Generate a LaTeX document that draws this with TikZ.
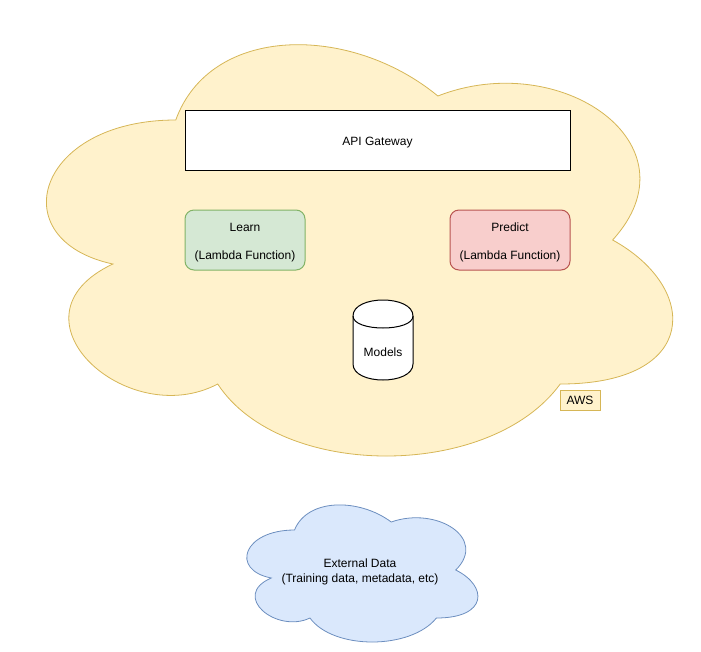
\documentclass[tikz,border=0pt]{standalone}
\usepackage{fontspec}
\setmainfont{Liberation Sans}
\usetikzlibrary{positioning}

\definecolor{awsfill}{HTML}{FFF2CC}
\definecolor{awsline}{HTML}{D6B656}
\definecolor{learnfill}{HTML}{D5E8D4}
\definecolor{learnline}{HTML}{82B366}
\definecolor{predictfill}{HTML}{F8CECC}
\definecolor{predictline}{HTML}{B85450}
\definecolor{datafill}{HTML}{DAE8FC}
\definecolor{dataline}{HTML}{6C8EBF}

\tikzset{
  pics/cloudshape/.style={code={
    \path[pic actions] (0.25,0.25)
      .. controls (0.05,0.25) and (0,0.5) .. (0.16,0.55)
      .. controls (0,0.66) and (0.18,0.9) .. (0.31,0.8)
      .. controls (0.4,1) and (0.7,1) .. (0.8,0.8)
      .. controls (1,0.8) and (1,0.6) .. (0.875,0.5)
      .. controls (1,0.3) and (0.8,0.1) .. (0.625,0.2)
      .. controls (0.5,0.05) and (0.3,0.05) .. (0.25,0.25) -- cycle;
  }},
  awscloud/.style={fill=awsfill, draw=awsline, line width=0.8pt},
  datacloud/.style={fill=datafill, draw=dataline, line width=0.8pt},
  box/.style={rectangle, draw, line width=1pt, inner sep=0pt, align=center},
  lambda/.style={box, rounded corners=9pt, minimum width=120, minimum height=60},
}
\newcommand{\topstrut}{\rule{0pt}{14pt}}

\begin{document}
\begin{tikzpicture}[x=1pt, y=-1pt, font=\fontsize{12}{14}\selectfont]
    \useasboundingbox (0,0) rectangle (701,651);

    % clouds
    \pic[awscloud, shift={(1,0)}, xscale=699, yscale=480] {cloudshape};
    \pic[datacloud, shift={(230,490)}, xscale=258, yscale=160] {cloudshape};

    \node [box, fill=white, minimum width=385, minimum height=60] (api) at (377.5,140) {\topstrut API Gateway};
    \node [lambda, fill=learnfill, draw=learnline] (learn) at (245,240) {\topstrut Learn\\[14pt](Lambda Function)};
    \node [lambda, fill=predictfill, draw=predictline] (predict) at (510,240) {\topstrut Predict\\[14pt](Lambda Function)};

    % models store
    \draw [fill=white, line width=1pt] (353,316) .. controls (353,294.67) and (413,294.67) .. (413,316)
        -- (413,364) .. controls (413,385.33) and (353,385.33) .. (353,364) -- cycle;
    \draw [line width=1pt] (353,316) .. controls (353,332) and (413,332) .. (413,316);
    \node (models) at (383,352.5) {Models};

    \node [box, fill=awsfill, draw=awsline, minimum width=40, minimum height=20] (aws) at (580,400) {AWS};
    \node [align=center] (extdata) at (360,572) {External Data\\[1pt](Training data, metadata, etc)};
\end{tikzpicture}
\end{document}
